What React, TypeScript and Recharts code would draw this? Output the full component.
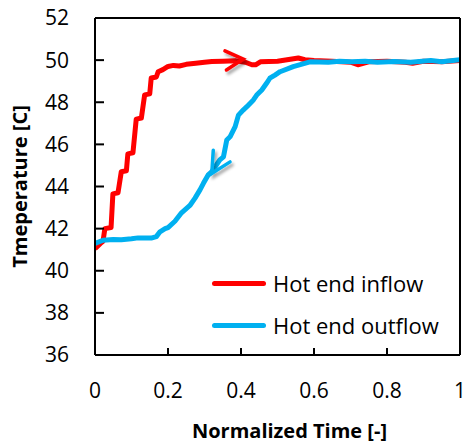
import React from "react";
import { LineChart, Line, XAxis, YAxis, Legend } from "recharts";

// normalized time / temperature readings
const inflowTime = [
  0, 0.015, 0.022, 0.027, 0.044, 0.049, 0.063, 0.072, 0.086, 0.09, 0.104, 0.113, 0.127, 0.136, 0.15,
  0.154, 0.168, 0.173, 0.186, 0.2, 0.215, 0.231, 0.25, 0.276, 0.3, 0.32, 0.35, 0.385, 0.412, 0.43,
  0.44, 0.453, 0.5, 0.557, 0.575, 0.6, 0.65, 0.7, 0.72, 0.75, 0.8, 0.85, 0.87, 0.9, 0.95, 1,
];
const inflowTemp = [
  41.05, 41.3, 41.4, 42.0, 42.05, 43.65, 43.7, 44.7, 44.75, 45.55, 45.6, 47.2, 47.25, 48.35, 48.4,
  49.15, 49.2, 49.45, 49.55, 49.7, 49.75, 49.72, 49.8, 49.85, 49.9, 49.93, 49.95, 49.97, 49.9, 49.78,
  49.78, 49.92, 49.95, 50.1, 50.02, 49.98, 49.95, 49.9, 49.78, 49.92, 49.95, 49.9, 49.85, 49.95, 49.92, 49.98,
];

const outflowTime = [
  0, 0.022, 0.05, 0.072, 0.1, 0.118, 0.14, 0.154, 0.168, 0.178, 0.192, 0.2, 0.219, 0.237, 0.26, 0.274,
  0.288, 0.297, 0.31, 0.32, 0.342, 0.352, 0.361, 0.37, 0.384, 0.393, 0.406, 0.416, 0.434, 0.443, 0.457,
  0.47, 0.479, 0.493, 0.507, 0.543, 0.589, 0.639, 0.67, 0.702, 0.74, 0.774, 0.82, 0.865, 0.92, 0.95, 1,
];
const outflowTemp = [
  41.3, 41.45, 41.48, 41.47, 41.52, 41.56, 41.55, 41.55, 41.62, 41.85, 42.0, 42.05, 42.35, 42.75, 43.1,
  43.45, 43.85, 44.15, 44.55, 44.7, 45.26, 45.41, 46.21, 46.36, 46.84, 47.39, 47.63, 47.79, 48.11, 48.34,
  48.58, 48.9, 49.14, 49.29, 49.45, 49.69, 49.92, 49.9, 49.95, 49.92, 49.95, 49.9, 49.93, 49.9, 49.98, 49.92, 50.02,
];

// arrow heads drawn on the curves
const inflowArrowTime = [0.356, 0.406, 0.36];
const inflowArrowTemp = [50.44, 50.05, 49.53];
const outflowArrowTime = [0.324, 0.32, 0.37];
const outflowArrowTemp = [45.72, 44.62, 45.17];

const xTicks = [0, 0.2, 0.4, 0.6, 0.8, 1];
const xMinorTicks = [0, 0.1, 0.2, 0.3, 0.4, 0.5, 0.6, 0.7, 0.8, 0.9, 1];
const yTicks = [36, 38, 40, 42, 44, 46, 48, 50, 52];

const zip = (xs: number[], ys: number[]) => xs.map((t, i) => ({ t, v: ys[i] }));

const inflow = zip(inflowTime, inflowTemp);
const outflow = zip(outflowTime, outflowTemp);
const inflowArrow = zip(inflowArrowTime, inflowArrowTemp);
const outflowArrow = zip(outflowArrowTime, outflowArrowTemp);

const FONT = "'Open Sans', sans-serif";
const RED = "#FF0000";
const BLUE = "#00B0F0";

function LegendBox({ payload }: { payload?: any[] }) {
  const items = (payload || []).filter((p) => p.value === "Hot end inflow" || p.value === "Hot end outflow");
  return (
    <div style={{ fontFamily: FONT }}>
      {items.map((p) => (
        <div key={p.value} style={{ display: "flex", alignItems: "center", height: 42 }}>
          <div style={{ width: 54, height: 5, borderRadius: 3, background: p.color, marginRight: 7 }} />
          <span style={{ fontSize: 22, color: "#000" }}>{p.value}</span>
        </div>
      ))}
    </div>
  );
}

export default function App() {
  return (
    <div style={{ position: "absolute", left: 0, top: 0, background: "#fff" }}>
      <LineChart width={470} height={448} margin={{ top: 0, right: 0, left: 0, bottom: 0 }}>
        <defs>
          <filter id="arrowShadow" x="-50%" y="-50%" width="200%" height="200%">
            <feDropShadow dx="2" dy="3" stdDeviation="1.5" floodColor="#000" floodOpacity="0.35" />
          </filter>
        </defs>
        <XAxis
          xAxisId="bottom"
          dataKey="t"
          type="number"
          domain={[0, 1]}
          ticks={xTicks}
          interval={0}
          allowDataOverflow
          height={93}
          stroke="#000"
          strokeWidth={2}
          tickSize={-7}
          tickMargin={35}
          tick={{ fontSize: 21, fill: "#000", fontFamily: FONT }}
          label={{
            value: "Normalized Time [-]",
            position: "insideBottom",
            offset: 10,
            dx: 12,
            style: { fontSize: 20, fontWeight: 700, fill: "#000", fontFamily: FONT },
          }}
        />
        <XAxis
          xAxisId="top"
          orientation="top"
          type="number"
          domain={[0, 1]}
          ticks={xMinorTicks}
          interval={0}
          height={18}
          stroke="#000"
          strokeWidth={2}
          tickSize={-7}
          tickFormatter={() => ""}
        />
        <YAxis
          yAxisId="left"
          type="number"
          domain={[36, 52]}
          ticks={yTicks}
          interval={0}
          width={95}
          stroke="#000"
          strokeWidth={2}
          tickSize={-9}
          tickMargin={35}
          tick={{ fontSize: 21, fill: "#000", fontFamily: FONT }}
          label={{
            value: "Tmeperature [C]",
            angle: -90,
            position: "insideLeft",
            offset: 20,
            style: { fontSize: 20, fontWeight: 700, fill: "#000", fontFamily: FONT, textAnchor: "middle" },
          }}
        />
        <YAxis
          yAxisId="right"
          orientation="right"
          type="number"
          domain={[36, 52]}
          ticks={yTicks}
          interval={0}
          width={10}
          stroke="#000"
          strokeWidth={2}
          tickSize={-9}
          tickFormatter={() => ""}
        />
        <Legend
          verticalAlign="middle"
          align="center"
          layout="vertical"
          wrapperStyle={{ left: 212, top: 262, width: 258 }}
          content={<LegendBox />}
        />
        <Line
          xAxisId="bottom"
          yAxisId="left"
          data={inflow}
          dataKey="v"
          name="Hot end inflow"
          type="linear"
          stroke={RED}
          strokeWidth={5}
          strokeLinejoin="round"
          dot={false}
          isAnimationActive={false}
        />
        <Line
          xAxisId="bottom"
          yAxisId="left"
          data={outflow}
          dataKey="v"
          name="Hot end outflow"
          type="linear"
          stroke={BLUE}
          strokeWidth={5}
          strokeLinejoin="round"
          dot={false}
          isAnimationActive={false}
        />
        <Line
          xAxisId="bottom"
          yAxisId="left"
          data={inflowArrow}
          dataKey="v"
          name="inflow arrow"
          legendType="none"
          type="linear"
          stroke={RED}
          strokeWidth={3.5}
          strokeLinecap="round"
          filter="url(#arrowShadow)"
          dot={false}
          isAnimationActive={false}
        />
        <Line
          xAxisId="bottom"
          yAxisId="left"
          data={outflowArrow}
          dataKey="v"
          name="outflow arrow"
          legendType="none"
          type="linear"
          stroke={BLUE}
          strokeWidth={3.5}
          strokeLinecap="round"
          filter="url(#arrowShadow)"
          dot={false}
          isAnimationActive={false}
        />
      </LineChart>
    </div>
  );
}
